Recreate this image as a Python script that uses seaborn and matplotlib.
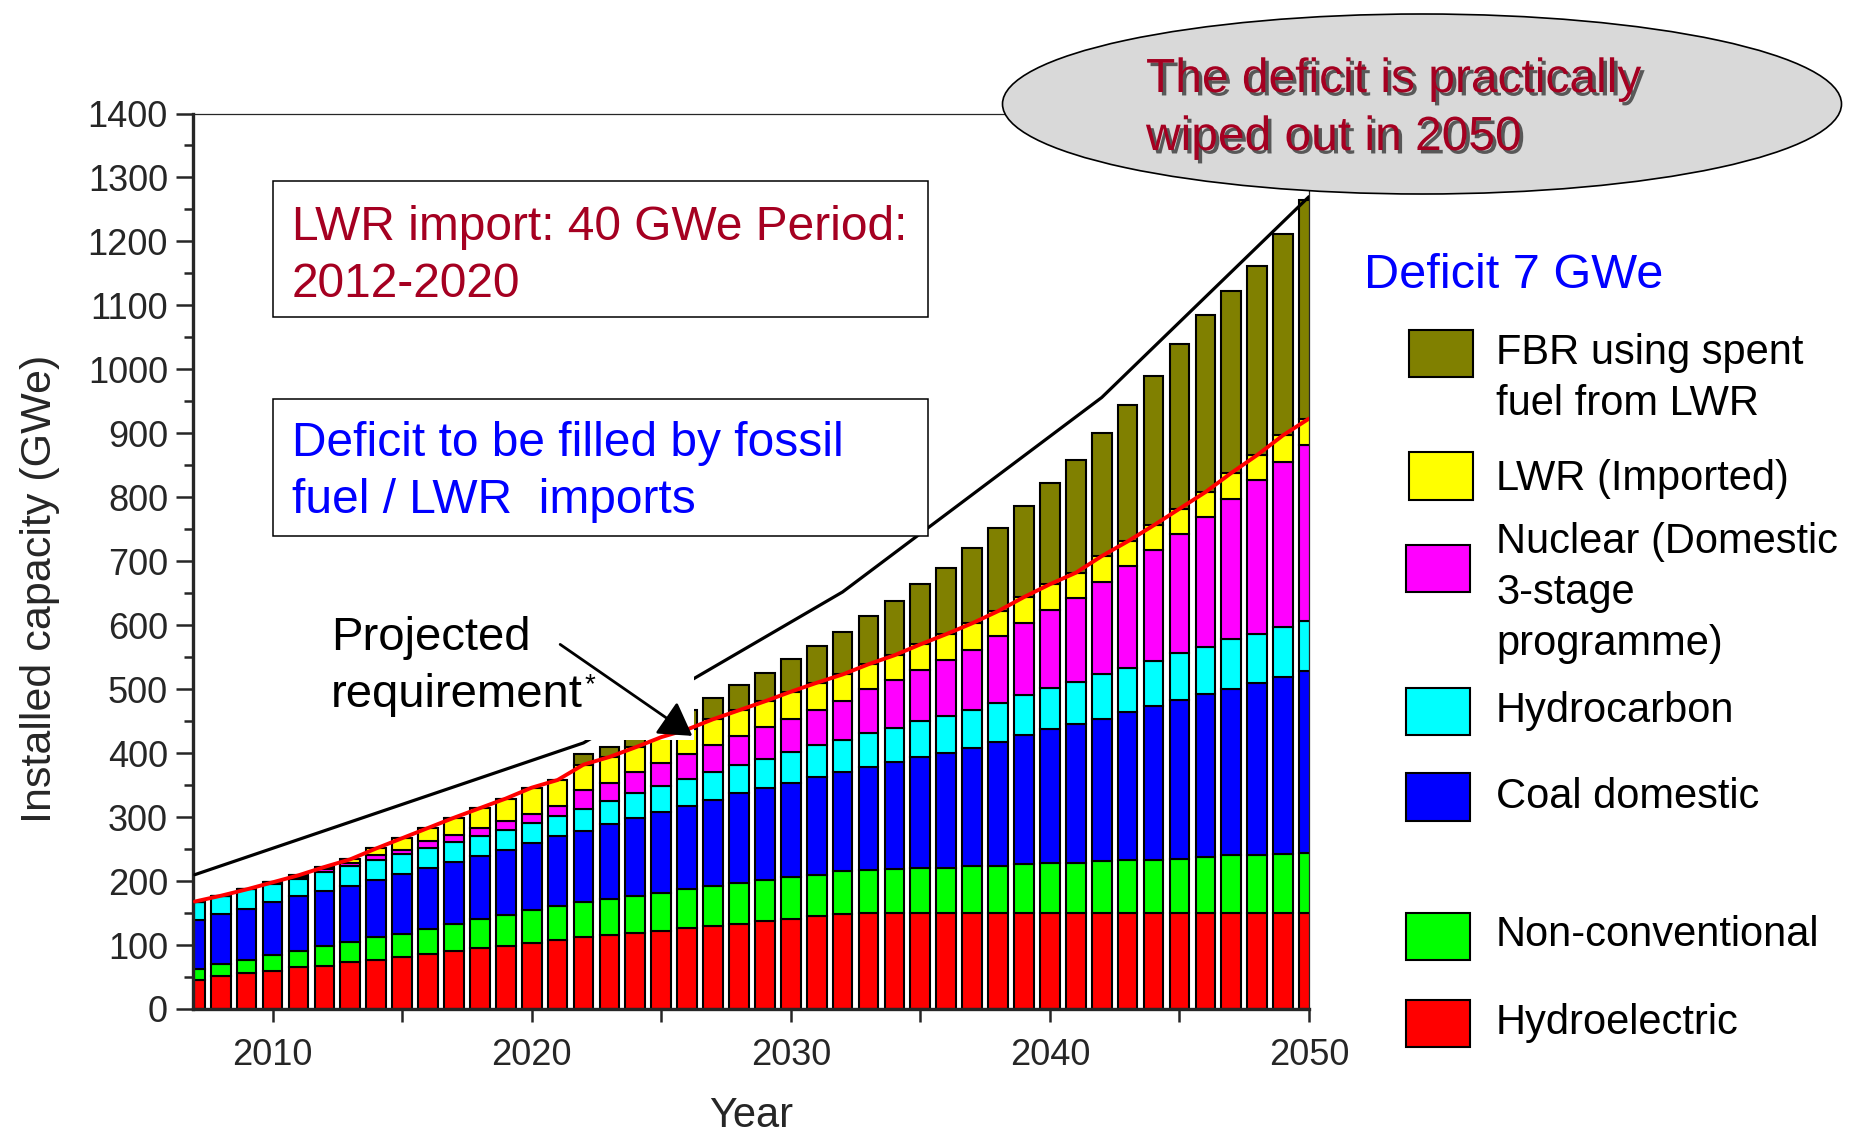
import matplotlib
matplotlib.use("Agg")
import matplotlib.pyplot as plt
import matplotlib.patches as mpatches
import matplotlib.patheffects as pe
from matplotlib.ticker import MultipleLocator
import numpy as np
import pandas as pd
import seaborn as sns

# ---------------------------------------------------------------- data
years = list(range(2007, 2051))

hydroelectric = [46, 51, 56, 60, 65, 68, 73, 77, 82, 86, 90, 95, 99, 103, 108,
                 112, 116, 119, 122, 126, 130, 133, 137, 140, 145, 148] + [150] * 18
non_conventional = [17, 19, 21, 24, 26, 31, 32, 35, 36, 39, 43, 46, 48, 51, 53,
                    56, 56, 58, 60, 61, 62, 64, 64, 66, 65, 67, 68, 69, 70, 71,
                    73, 74, 76, 78, 79, 81, 83, 83, 85, 88, 90, 91, 92, 94]
coal_domestic = [76, 78, 80, 83, 85, 86, 88, 90, 93, 95, 97, 98, 102, 106, 109,
                 111, 117, 122, 126, 131, 135, 140, 145, 148, 152, 156, 161, 167,
                 174, 179, 185, 193, 202, 209, 216, 223, 231, 240, 248, 254, 261,
                 269, 277, 285]
hydrocarbon = [29, 29, 30, 29, 28, 29, 30, 31, 31, 31, 31, 31, 31, 31, 32, 34,
               36, 39, 41, 42, 44, 44, 45, 48, 50, 50, 52, 54, 56, 58, 59, 62,
               63, 65, 67, 69, 69, 71, 74, 74, 77, 77, 78, 78]
nuclear_domestic = [0, 0, 0, 2, 3, 5, 5, 7, 6, 11, 11, 13, 14, 14, 15, 29, 29,
                    32, 35, 38, 42, 46, 50, 52, 56, 61, 69, 74, 80, 87, 95, 104,
                    113, 122, 131, 144, 159, 173, 186, 203, 219, 240, 258, 275]
lwr_imported = [0, 0, 0, 0, 2, 3, 6, 11, 19, 21, 27, 31, 35, 41, 41, 40, 40,
                39, 41, 39, 40, 40, 40, 42, 42, 41, 39, 39, 40, 41, 41, 39, 40,
                40, 39, 41, 39, 39, 39, 39, 41, 39, 42, 41]
fbr_spent_fuel = [0, 0, 0, 0, 0, 0, 0, 0, 0, 0, 0, 0, 0, 0, 0, 17, 15, 19, 21,
                  30, 33, 39, 45, 51, 58, 66, 75, 85, 94, 104, 118, 130, 143,
                  158, 176, 193, 213, 234, 257, 277, 285, 296, 315, 341]

# projected requirement (GWe)
req_years = [2007, 2022, 2032, 2042, 2050]
req_values = [210, 416, 652, 956, 1270]

# bottom-to-top stacking order
sources = ["Hydroelectric", "Non-conventional", "Coal domestic", "Hydrocarbon",
           "Nuclear", "LWR (Imported)", "FBR"]
series = [hydroelectric, non_conventional, coal_domestic, hydrocarbon,
          nuclear_domestic, lwr_imported, fbr_spent_fuel]
colors = ["#ff0000", "#00ff00", "#0000ff", "#00ffff", "#ff00ff", "#ffff00",
          "#808000"]

legend_labels = {
    "FBR": ["FBR using spent", "fuel from LWR"],
    "LWR (Imported)": ["LWR (Imported)"],
    "Nuclear": ["Nuclear (Domestic", "3-stage", "programme)"],
    "Hydrocarbon": ["Hydrocarbon"],
    "Coal domestic": ["Coal domestic"],
    "Non-conventional": ["Non-conventional"],
    "Hydroelectric": ["Hydroelectric"],
}

df = pd.DataFrame({
    "year": np.tile(years, len(sources)),
    "source": np.repeat(sources, len(years)),
    "value": np.concatenate([np.asarray(s, float) for s in series]),
})
palette = dict(zip(sources, colors))

# cumulative capacity without the FBR contribution (red line)
domestic_plus_lwr = np.sum(np.array(series[:6], float), axis=0)

# ---------------------------------------------------------------- style
sns.set_style("ticks")
plt.rcParams["font.family"] = ["Liberation Sans", "DejaVu Sans"]
plt.rcParams["font.size"] = 26

W, H = 1866, 1138
fig = plt.figure(figsize=(W / 100, H / 100), dpi=100)


def fx(px):
    return px / W


def fy(py):
    return 1 - py / H


ax = fig.add_axes([fx(193), fy(1009), (1309 - 193) / W, (1009 - 113.5) / H])

# seaborn stacks the first hue level on top, so hand it the reversed order
sns.histplot(data=df, x="year", weights="value", hue="source",
             hue_order=sources[::-1], multiple="stack", discrete=True,
             shrink=0.76, palette=palette, edgecolor="black", linewidth=1.5,
             alpha=1, legend=False, ax=ax)

sns.lineplot(x=req_years, y=req_values, color="black", linewidth=2.3,
             ax=ax, zorder=3)

# white backing of the "Projected requirement" call-out
ax.add_patch(mpatches.Rectangle((2012, 420), 14.25, 240, facecolor="white",
                                edgecolor="none", zorder=4))

sns.lineplot(x=years, y=domestic_plus_lwr, color="red", linewidth=2.8,
             ax=ax, zorder=5)

ax.annotate("", xy=(2026.2, 427), xytext=(2021.1, 570),
            arrowprops=dict(arrowstyle="-|>,head_length=0.5,head_width=0.3",
                            mutation_scale=40, lw=2, color="black",
                            shrinkA=0, shrinkB=0),
            zorder=6)

ax.set_xlim(2006.93, 2050)
ax.set_ylim(0, 1400)
ax.xaxis.set_major_locator(MultipleLocator(10))
ax.xaxis.set_minor_locator(MultipleLocator(5))
ax.yaxis.set_major_locator(MultipleLocator(100))
ax.yaxis.set_minor_locator(MultipleLocator(50))
ax.tick_params(axis="x", which="both", direction="out", length=9, width=1.8,
               pad=12, labelsize=26)
ax.tick_params(axis="y", which="major", direction="out", length=12, width=1.8,
               pad=6, labelsize=26)
ax.tick_params(axis="y", which="minor", direction="out", length=6.5,
               width=1.8)

for side in ("left", "bottom"):
    ax.spines[side].set_linewidth(2.4)
for side in ("top", "right"):
    ax.spines[side].set_linewidth(0.9)
    ax.spines[side].set_visible(True)

ax.set_xlabel("Year", fontsize=30)
ax.xaxis.label.set_va("baseline")
ax.xaxis.set_label_coords(0.5, -(1127 - 1009) / 895.5)
ax.set_ylabel("Installed capacity (GWe)", fontsize=31)
ax.yaxis.label.set_va("center")
ax.yaxis.set_label_coords((40 - 193) / 1116, (1009 - 589) / 895.5)

# ---------------------------------------------------------------- call-outs
dark_red = "#a50021"
blue = "#0000ff"

fig.add_artist(mpatches.Rectangle((fx(272.5), fy(316.5)), (928 - 272.5) / W,
                                  (316.5 - 181) / H, transform=fig.transFigure,
                                  facecolor="white", edgecolor="black", lw=1.1))
fig.text(fx(291.5), fy(239.5), "LWR import: 40 GWe Period:", color=dark_red,
         fontsize=34.5, va="baseline")
fig.text(fx(291.5), fy(297), "2012-2020", color=dark_red, fontsize=34.5,
         va="baseline")

fig.add_artist(mpatches.Rectangle((fx(272.5), fy(535.5)), (928 - 272.5) / W,
                                  (535.5 - 399) / H, transform=fig.transFigure,
                                  facecolor="white", edgecolor="black", lw=1.1))
fig.text(fx(291.5), fy(456), "Deficit to be filled by fossil", color=blue,
         fontsize=34.5, va="baseline")
fig.text(fx(291.5), fy(513), "fuel / LWR  imports", color=blue, fontsize=34.5,
         va="baseline")

fig.text(fx(330.7), fy(650), "Projected", color="black", fontsize=34,
         va="baseline")
fig.text(fx(330.7), fy(707), "requirement", color="black", fontsize=34,
         va="baseline")
fig.text(fx(585), fy(692), "*", color="black", fontsize=20, va="baseline")

fig.add_artist(mpatches.Ellipse((fx(1422), fy(104)), 839 / W, 180 / H,
                                transform=fig.transFigure, facecolor="#d9d9d9",
                                edgecolor="black", lw=1.2))
shadow = [pe.SimplePatchShadow(offset=(2.5, -2.5), shadow_rgbFace="#222222",
                               alpha=0.7), pe.Normal()]
fig.text(fx(1146), fy(92), "The deficit is practically", color=dark_red,
         fontsize=34.5, va="baseline", path_effects=shadow)
fig.text(fx(1146), fy(150), "wiped out in 2050", color=dark_red,
         fontsize=34.5, va="baseline", path_effects=shadow)

fig.text(fx(1364), fy(288.5), "Deficit 7 GWe", color=blue, fontsize=35,
         va="baseline")

# ---------------------------------------------------------------- legend
legend_boxes = {
    "FBR": (1409, 330, 377, [364, 415]),
    "LWR (Imported)": (1409, 452, 500, [490]),
    "Nuclear": (1406, 545, 592, [553, 604, 655]),
    "Hydrocarbon": (1406, 688, 735, [722]),
    "Coal domestic": (1406, 773, 821, [808]),
    "Non-conventional": (1406, 913, 960, [946]),
    "Hydroelectric": (1406, 1000, 1047, [1034]),
}
for name, (x0, top, bottom, baselines) in legend_boxes.items():
    fig.add_artist(mpatches.Rectangle((fx(x0), fy(bottom)), 64 / W,
                                      (bottom - top) / H,
                                      transform=fig.transFigure,
                                      facecolor=palette[name],
                                      edgecolor="black", lw=1.5))
    for line, base in zip(legend_labels[name], baselines):
        fig.text(fx(1496), fy(base), line, fontsize=30, va="baseline",
                 color="black")

fig.savefig("out.png", dpi=100)
